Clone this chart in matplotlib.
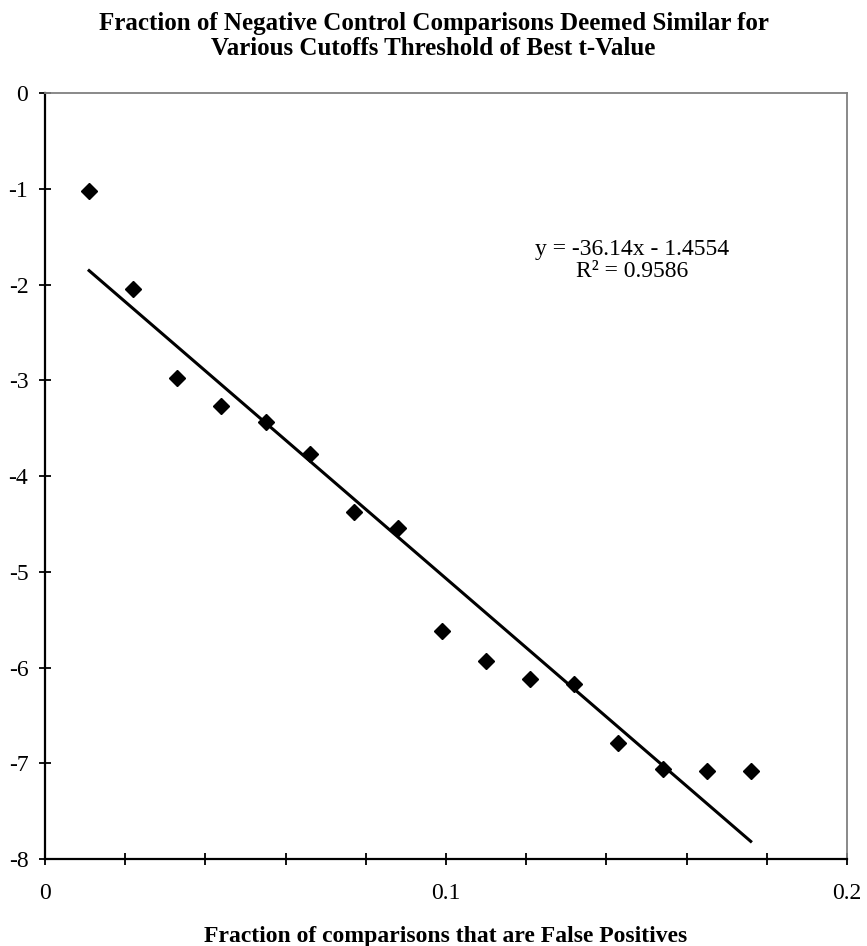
import numpy as np
import matplotlib
matplotlib.use("Agg")
import matplotlib.pyplot as plt

# Datos: fracción de falsos positivos vs. umbral de mejor t-value
fp_fraction = [0.011, 0.022, 0.033, 0.044, 0.055, 0.066, 0.077, 0.088,
               0.099, 0.110, 0.121, 0.132, 0.143, 0.154, 0.165, 0.176]
t_cutoff = [-1.02, -2.04, -2.97, -3.27, -3.43, -3.77, -4.37, -4.54,
            -5.62, -5.93, -6.12, -6.17, -6.79, -7.06, -7.08, -7.08]

# Recta de tendencia lineal
SLOPE = -36.14
INTERCEPT = -1.4554
R2 = 0.9586

x_ticks = [0, 0.02, 0.04, 0.06, 0.08, 0.1, 0.12, 0.14, 0.16, 0.18, 0.2]
x_tick_labels = ["0", "", "", "", "", "0.1", "", "", "", "", "0.2"]
y_ticks = [0, -1, -2, -3, -4, -5, -6, -7, -8]

plt.rcParams["font.family"] = ["Liberation Serif", "DejaVu Serif"]

fig = plt.figure(figsize=(8.67, 9.46), dpi=100)
ax = fig.add_axes([0.0519, 0.092, 0.925, 0.8094])

ax.plot(fp_fraction, t_cutoff, linestyle="none", marker="D", ms=8.5,
        color="black", zorder=3)

xs = np.array([fp_fraction[0], fp_fraction[-1]])
ax.plot(xs, SLOPE * xs + INTERCEPT, color="black", lw=2.2, zorder=2)

ax.text(0.732, 0.782, f"y = {SLOPE}x - {abs(INTERCEPT)}\nR\u00b2 = {R2}",
        transform=ax.transAxes, ha="center", va="center", fontsize=17,
        linespacing=1.05)

ax.set_xlim(0, 0.2)
ax.set_ylim(-8, 0)
ax.set_xticks(x_ticks)
ax.set_xticklabels(x_tick_labels)
ax.set_yticks(y_ticks)
ax.set_yticklabels([str(v) for v in y_ticks])

# Ejes estilo hoja de cálculo
for s in ["left", "bottom"]:
    ax.spines[s].set_color("black")
    ax.spines[s].set_linewidth(1.6)
for s in ["top", "right"]:
    ax.spines[s].set_color("#808080")
    ax.spines[s].set_linewidth(1.3)

ax.tick_params(axis="x", direction="inout", length=8, width=1.3,
               labelsize=17, pad=13)
ax.tick_params(axis="y", direction="inout", length=8, width=1.3,
               labelsize=17, pad=8)

ax.set_xlabel("Fraction of comparisons that are False Positives",
              fontsize=17, fontweight="bold", labelpad=16)

fig.suptitle("Fraction of Negative Control Comparisons Deemed Similar for\n"
             "Various Cutoffs Threshold of Best t-Value",
             fontsize=18, fontweight="bold", y=0.987, va="top",
             linespacing=1.1)

fig.savefig("out.png", dpi=100, facecolor="white")
